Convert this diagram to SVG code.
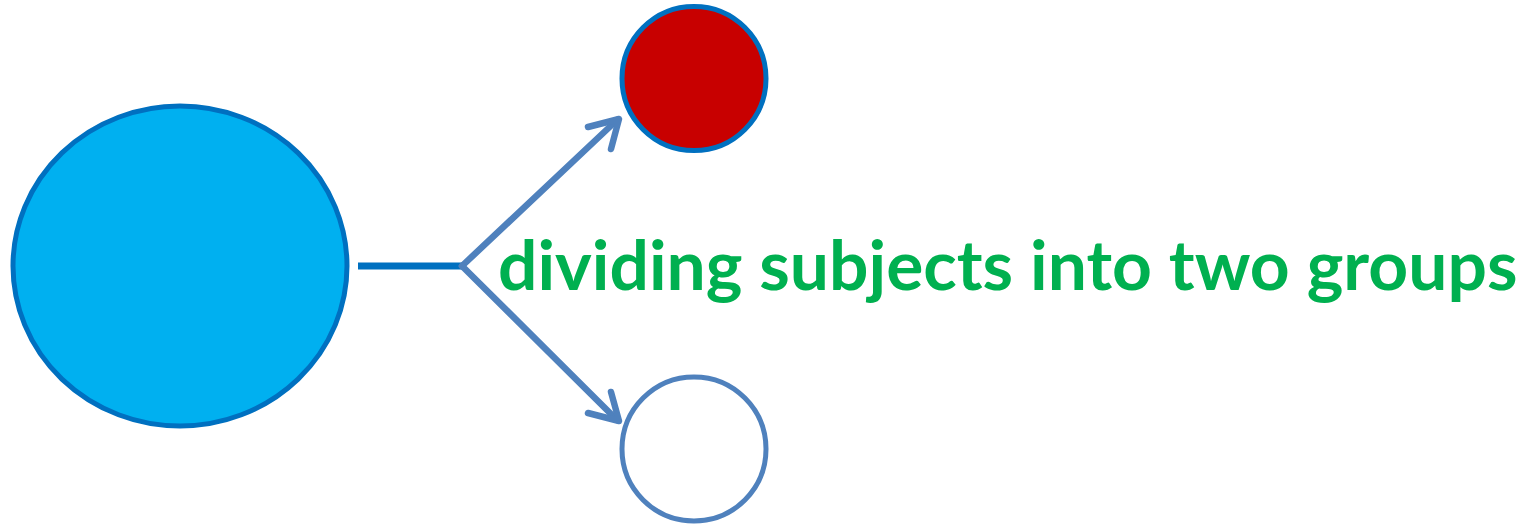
<svg xmlns="http://www.w3.org/2000/svg" width="1527" height="526" viewBox="0 0 1527 526">
<style>
.conn{fill:none;stroke:#4F81BD;stroke-width:6.5;stroke-linecap:round;stroke-linejoin:round}
.lbl{font-family:Lato,"Open Sans","Liberation Sans",sans-serif;font-weight:bold;fill:#00B050}
</style>
<rect width="1527" height="526" fill="#fff"/>
<g id="source">
<ellipse cx="180" cy="266" rx="167" ry="160" fill="#00B0F0" stroke="#0070C0" stroke-width="5"/>
</g>
<g id="group-red">
<circle cx="694" cy="78.5" r="72" fill="#C80000" stroke="#0070C0" stroke-width="5"/>
</g>
<g id="group-white">
<circle cx="694" cy="449" r="72" fill="#fff" stroke="#4F81BD" stroke-width="5"/>
</g>
<g id="connectors">
<line x1="358" y1="266" x2="462" y2="266" stroke="#0070C0" stroke-width="7"/>
<polyline class="conn" points="462,266 617,120"/>
<polyline class="conn" points="588,127 619,119 611,149"/>
<polyline class="conn" points="462,266 617,420"/>
<polyline class="conn" points="588,413 619,421 611,392"/>
</g>
<g id="label">
<text class="lbl" x="498" y="290" font-size="69.5">dividing subjects into two groups</text>
</g>
</svg>
